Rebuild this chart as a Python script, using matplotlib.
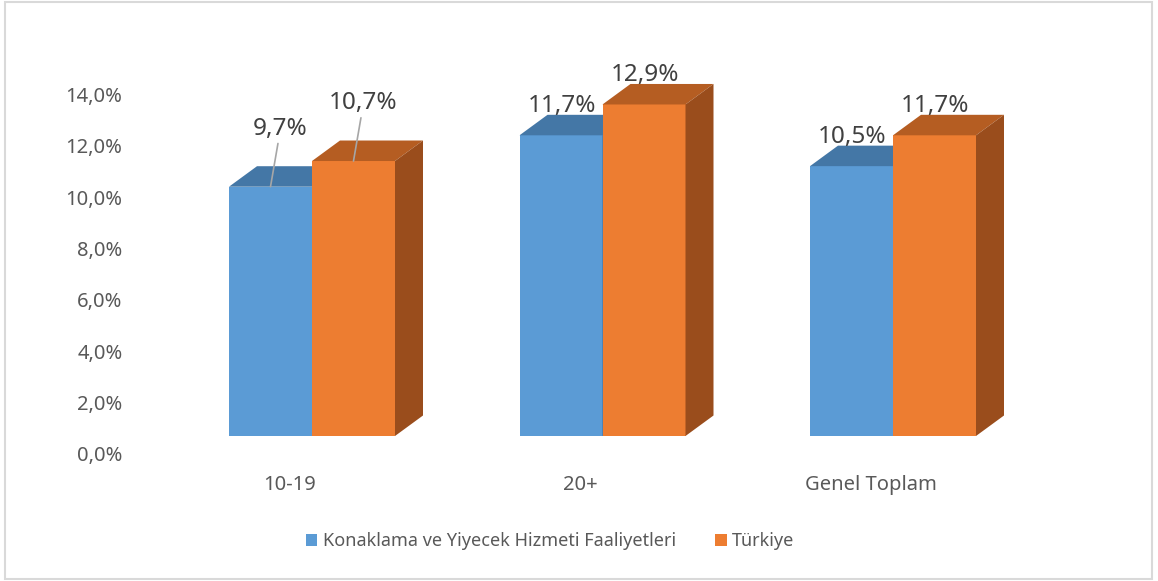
import matplotlib
matplotlib.use('Agg')
import matplotlib.pyplot as plt
import matplotlib.transforms as mtrans
from matplotlib.patches import Polygon, Rectangle
import numpy as np

categories = ["10-19", "20+", "Genel Toplam"]
series_names = ["Konaklama ve Yiyecek Hizmeti Faaliyetleri", "Türkiye"]
konaklama = [9.7, 11.7, 10.5]
turkiye = [10.7, 12.9, 11.7]
yticks = [0, 2, 4, 6, 8, 10, 12, 14]

# colours: front, top, side
colors = [("#5B9BD5", "#4477A6", "#3E6E9A"),
          ("#ED7D31", "#B55D22", "#9A4D1C")]

# label offsets (px) for each group
label_offsets = [(10, 58), (1, 29), (1, 29)]

W, H, DPI = 1158, 581, 100
fig = plt.figure(figsize=(W / DPI, H / DPI), dpi=DPI)
plt.rcParams['font.family'] = ['Noto Sans', 'DejaVu Sans']

xlim = (-0.6, 2.7)
ylim = (0, 15)
px_x = 290.5
px_y = 25.7
ax_left = 312 - 0.6 * px_x
ax_w = (xlim[1] - xlim[0]) * px_x
ax_bottom = H - 436
ax_h = (ylim[1] - ylim[0]) * px_y
ax = fig.add_axes([ax_left / W, ax_bottom / H, ax_w / W, ax_h / H])
ax.set_xlim(*xlim)
ax.set_ylim(*ylim)
for s in ax.spines.values():
    s.set_visible(False)

# chart border
fig.patches.append(Rectangle((5 / W, 2 / H), 1147 / W, 577 / H, transform=fig.transFigure,
                             fill=False, edgecolor="#D9D9D9", linewidth=1.5))

bw = 83 / px_x
ddx = 28 / px_x
ddy = 20.5 / px_y
x = np.arange(len(categories))

def bar3d(x0, v, cols, z):
    front, top, side = cols
    ax.add_patch(Polygon([(x0, 0), (x0 + bw, 0), (x0 + bw, v), (x0, v)],
                         closed=True, facecolor=front, edgecolor="none", zorder=z))
    ax.add_patch(Polygon([(x0, v), (x0 + bw, v), (x0 + bw + ddx, v + ddy), (x0 + ddx, v + ddy)],
                         closed=True, facecolor=top, edgecolor="none", zorder=z))
    ax.add_patch(Polygon([(x0 + bw, 0), (x0 + bw + ddx, ddy), (x0 + bw + ddx, v + ddy), (x0 + bw, v)],
                         closed=True, facecolor=side, edgecolor="none", zorder=z))

for k, vals in enumerate([konaklama, turkiye]):
    for i, v in enumerate(vals):
        x0 = x[i] - bw + k * bw
        bar3d(x0, v, colors[k], 2 + k)
        ox, oy = label_offsets[i]
        lbl = ("%.1f%%" % v).replace(".", ",")
        arrow = dict(arrowstyle="-", color="#A6A6A6", lw=1.2, shrinkA=0, shrinkB=0) if oy > 40 else None
        ax.annotate(lbl, xy=(x0 + bw / 2, v), xytext=(ox * 0.72, oy * 0.72),
                    textcoords="offset points", ha="center", va="center",
                    fontsize=17.5, color="#404040", zorder=10,
                    arrowprops=arrow)

# y axis
ax.set_yticks(yticks)
ax.set_yticklabels([("%.1f%%" % t).replace(".", ",") for t in yticks])
ax.tick_params(axis="y", length=0, pad=11, labelsize=14.5, labelcolor="#595959")
shift_y = mtrans.ScaledTranslation(0, -18 / DPI, fig.dpi_scale_trans)
for lab in ax.get_yticklabels():
    lab.set_transform(lab.get_transform() + shift_y)

# x axis
ax.set_xticks(x)
ax.set_xticklabels(categories)
ax.tick_params(axis="x", length=0, pad=28, labelsize=14.5, labelcolor="#595959")
shift_x = mtrans.ScaledTranslation(-22 / DPI, 0, fig.dpi_scale_trans)
for lab in ax.get_xticklabels():
    lab.set_transform(lab.get_transform() + shift_x)

# legend
handles = [Rectangle((0, 0), 1, 1, facecolor=c[0], edgecolor="none") for c in colors]
fig.legend(handles, series_names, loc="center", bbox_to_anchor=(550 / W, 1 - 541 / H),
           ncol=2, frameon=False, fontsize=13, labelcolor="#595959",
           handlelength=0.65, handleheight=0.65, handletextpad=0.3, columnspacing=2.15)

fig.savefig("out.png", dpi=DPI)
